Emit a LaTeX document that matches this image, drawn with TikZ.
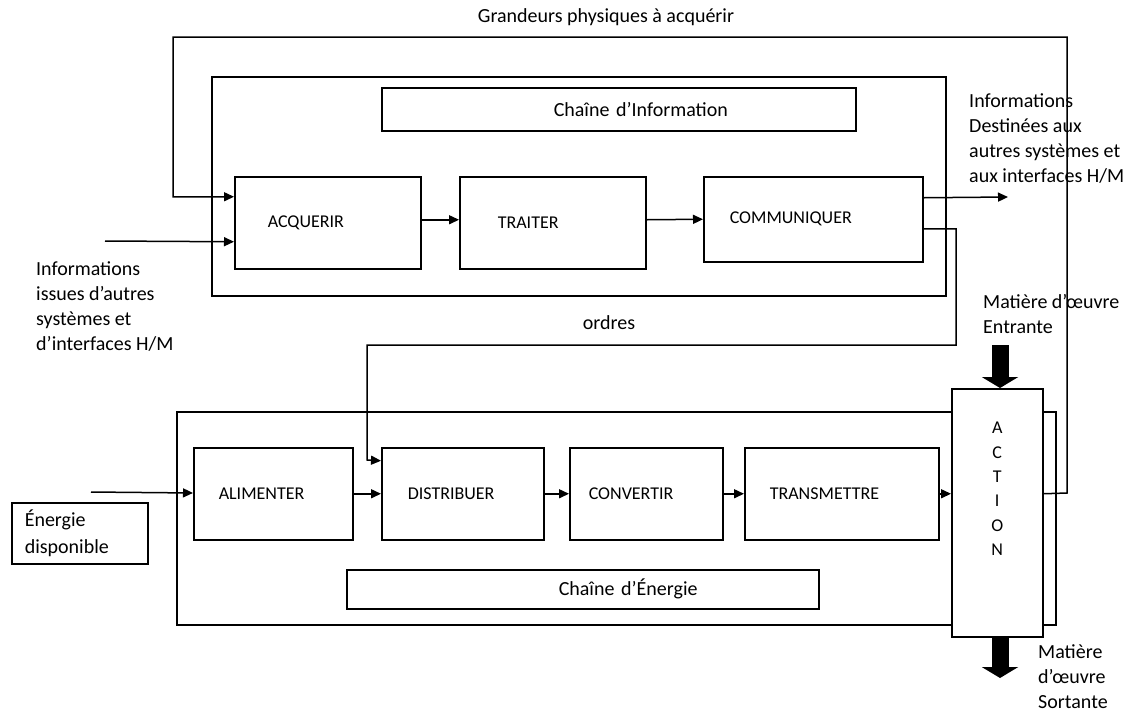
\documentclass[tikz,border=0pt]{standalone}
\usepackage{fontspec}
\setmainfont{Carlito}
\usetikzlibrary{arrows.meta,positioning}

\tikzset{
  wire/.style={line width=1.5pt},
  flow/.style={wire, -{Triangle[length=10pt,width=9pt]}},
  big/.style={line width=17pt, -{Triangle[length=11pt,width=36pt]}},
  frame/.style={draw, wire, inner sep=0pt, anchor=north west},
  blk/.style={frame, fill=white, text width=#1, minimum height=92pt, align=left,
    font=\fontsize{18}{25}\selectfont},
  txt/.style={inner sep=0pt, align=left, anchor=west},
}

\begin{document}
\begin{tikzpicture}[x=1pt, y=-1pt, font=\fontsize{20}{25}\selectfont]
  \useasboundingbox (0,0) rectangle (1131,713);

  % Chaine d'information
  \node[frame, minimum width=734pt, minimum height=219pt] (info) at (211,76) {};
  \node[frame, text width=474pt, minimum height=43pt, align=left]
    (info-title) at (381,87) {\hspace*{172pt}Chaîne d’Information};
  \node[blk=186pt] (acq)  at (234,176) {\hspace*{33pt}ACQUERIR};
  \node[blk=186pt] (trai) at (459,176) {\hspace*{38pt}TRAITER};
  \node[blk=219pt, minimum height=85pt] (comm) at (703,176) {\hspace*{26pt}COMMUNIQUER};

  % Chaine d'energie
  \node[frame, minimum width=879pt, minimum height=213pt] (energie) at (176,411) {};
  \node[frame, text width=472pt, minimum height=39pt, align=left]
    (en-title) at (346,569) {\hspace*{212pt}Chaîne d’Énergie};
  \node[blk=159pt] (alim)  at (193,447) {\hspace*{25pt}ALIMENTER};
  \node[blk=162pt] (dist)  at (381,447) {\hspace*{26pt}DISTRIBUER};
  \node[blk=153pt] (conv)  at (569,447) {\hspace*{19pt}CONVERTIR};
  \node[blk=194pt] (trans) at (744,447) {\hspace*{25pt}TRANSMETTRE};

  % Action (lettres en colonne, remontees vers le haut)
  \node[frame, fill=white, minimum width=91pt, minimum height=248pt] (action) at (951,388)
    {\raisebox{0pt}[\height][\dimexpr\depth+46pt]{\fontsize{18}{24.4}\selectfont
      \begin{tabular}{@{}c@{}}A\\C\\T\\I\\O\\N\end{tabular}}};

  \node[frame, inner xsep=13pt, text width=110pt, minimum height=61pt, align=left,
    font=\fontsize{20}{27}\selectfont] (dispo) at (11,502) {Énergie\\disponible};

  % Textes
  \node (grand) at (606,17) {Grandeurs physiques à acquérir};
  \node (ordres) at (609,323) {ordres};
  \node[txt] (info-out) at (969,139) {Informations\\Destinées aux\\autres systèmes et\\aux interfaces H/M};
  \node[txt] (info-in) at (36,307) {Informations\\issues d’autres\\systèmes et\\d’interfaces H/M};
  \node[txt] (mo-in) at (983,314) {Matière d’œuvre\\Entrante};
  \node[txt] (mo-out) at (1038,677) {Matière\\d’œuvre\\Sortante};

  \coordinate (in-info) at (105,241);
  \coordinate (in-en) at (91,492);
  \coordinate (out-info) at (1008,197);
  \coordinate (mo-top) at (1000,345);
  \coordinate (mo-bot) at (1000,678);

  % Liaisons
  \draw[flow] ([yshift=3pt]acq.east) -- ([yshift=3pt]trai.west);
  \draw[flow] ([yshift=3pt]trai.east) -- (comm.west);
  \draw[flow] (in-info) -- ([yshift=-19pt]acq.west);
  \draw[flow] ([yshift=21.5pt]comm.east) -- (out-info);
  \draw[flow] ([yshift=-9.5pt]comm.east) -| (956,345) -| (367,460)
    -- ([yshift=33pt]dist.west);
  \draw[flow] (action.east |- trans.east) -- (1067,493) |- (173,37)
    |- ([yshift=26pt]acq.west);

  \draw[flow] (in-en) -- (alim);
  \draw[flow] (alim) -- (dist);
  \draw[flow] (dist) -- (conv);
  \draw[flow] (conv) -- (trans);
  \draw[flow] (trans) -- (action.west |- trans.east);

  \draw[big] (mo-top) -- (mo-top |- action.north);
  \draw[big] (mo-bot |- action.south) -- (mo-bot);
\end{tikzpicture}
\end{document}
